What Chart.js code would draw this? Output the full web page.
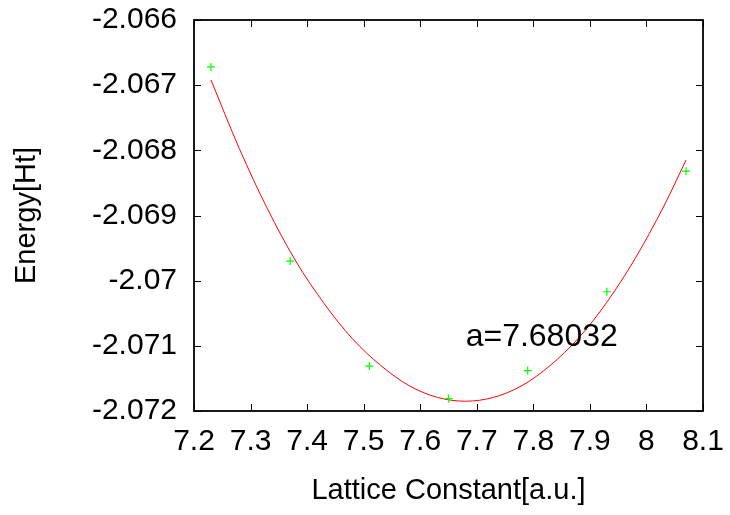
<!DOCTYPE html>
<html>
<head>
<meta charset="utf-8">
<script src="https://cdn.jsdelivr.net/npm/chart.js@4.4.1/dist/chart.umd.min.js"></script>
<style>
  html, body { margin: 0; padding: 0; background: #fff; }
  #wrap { width: 730px; height: 515px; }
</style>
</head>
<body>
<div id="wrap"><canvas id="eosChart" width="730" height="515"></canvas></div>
<script>
// ── Data ────────────────────────────────────────────────────

const latticeA = [7.23, 7.37, 7.51, 7.65, 7.79, 7.93, 8.07];
const energyHt = [-2.06672, -2.06970, -2.07131, -2.07181, -2.07138, -2.07017, -2.06832];

// fitted curve, sampled by eye along the red line
const fitA = [7.23, 7.28, 7.33, 7.38, 7.43, 7.48, 7.53, 7.58, 7.63, 7.68,
              7.73, 7.78, 7.83, 7.88, 7.93, 7.98, 8.03, 8.07];
const fitE = [-2.06692, -2.06797, -2.06890, -2.06970, -2.07035, -2.07089, -2.07130, -2.07161, -2.07179, -2.07185,
              -2.07179, -2.07161, -2.07130, -2.07088, -2.07033, -2.06966, -2.06887, -2.06815];

const xTicks = [7.2, 7.3, 7.4, 7.5, 7.6, 7.7, 7.8, 7.9, 8.0, 8.1];
const yTicks = [-2.072, -2.071, -2.070, -2.069, -2.068, -2.067, -2.066];

const fitLabel  = 'a=7.68032';
const fitLabelA = 7.68032;
const fitLabelE = -2.07086;

// ── Styling ─────────────────────────────────────────────────

const FONT = '"Liberation Sans", Arial, Helvetica, sans-serif';
const TICK_LEN = 7;

// gnuplot-style frame with inward, mirrored ticks
const framePlugin = {
  id: 'frame',
  afterDatasetsDraw(chart) {
    const { ctx, chartArea: a, scales } = chart;
    ctx.save();
    ctx.strokeStyle = '#000';
    ctx.lineWidth = 1;
    ctx.beginPath();
    xTicks.forEach(v => {
      const px = Math.round(scales.x.getPixelForValue(v)) + 0.5;
      ctx.moveTo(px, a.bottom); ctx.lineTo(px, a.bottom - TICK_LEN);
      ctx.moveTo(px, a.top);    ctx.lineTo(px, a.top + TICK_LEN);
    });
    yTicks.forEach(v => {
      const py = Math.round(scales.y.getPixelForValue(v)) + 0.5;
      ctx.moveTo(a.left, py);  ctx.lineTo(a.left + TICK_LEN, py);
      ctx.moveTo(a.right, py); ctx.lineTo(a.right - TICK_LEN, py);
    });
    ctx.stroke();

    ctx.lineWidth = 1.8;
    ctx.strokeRect(a.left, a.top, a.right - a.left, a.bottom - a.top);

    // fit result label
    ctx.fillStyle = '#000';
    ctx.font = '32px ' + FONT;
    ctx.textAlign = 'left';
    ctx.textBaseline = 'middle';
    ctx.fillText(fitLabel, scales.x.getPixelForValue(fitLabelA), scales.y.getPixelForValue(fitLabelE));
    ctx.restore();
  }
};

const trimNum = (v, d) => String(parseFloat(Number(v).toFixed(d)));

new Chart(document.getElementById('eosChart'), {
  type: 'scatter',
  data: {
    datasets: [{
      label: 'fit',
      data: fitA.map((a, i) => ({ x: a, y: fitE[i] })),
      showLine: true,
      borderColor: '#ff0000',
      borderWidth: 1,
      pointRadius: 0,
      cubicInterpolationMode: 'monotone',
      order: 2
    }, {
      label: 'energy',
      data: latticeA.map((a, i) => ({ x: a, y: energyHt[i] })),
      pointStyle: 'cross',
      pointRadius: 4,
      borderColor: '#00ff00',
      backgroundColor: '#00ff00',
      borderWidth: 1.2,
      order: 1
    }]
  },
  options: {
    responsive: false,
    animation: false,
    layout: { padding: { top: 20, right: 27, left: 0, bottom: 0 } },
    plugins: {
      legend:  { display: false },
      tooltip: { enabled: false }
    },
    scales: {
      x: {
        type: 'linear',
        min: 7.2,
        max: 8.1,
        afterBuildTicks: s => { s.ticks = xTicks.map(v => ({ value: v })); },
        afterFit: s => { s.height = 104; s.paddingLeft = 0; s.paddingRight = 0; },
        grid:   { display: false, drawTicks: false },
        border: { display: false },
        ticks: {
          color: '#000',
          padding: 13,
          maxRotation: 0,
          font: { family: FONT, size: 30 },
          callback: v => trimNum(v, 1)
        },
        title: {
          display: true,
          text: 'Lattice Constant[a.u.]',
          color: '#000',
          padding: { top: 6, bottom: 7 },
          font: { family: FONT, size: 29 }
        }
      },
      y: {
        type: 'linear',
        min: -2.072,
        max: -2.066,
        afterBuildTicks: s => { s.ticks = yTicks.map(v => ({ value: v })); },
        afterFit: s => { s.width = 194; s.paddingTop = 0; s.paddingBottom = 0; },
        grid:   { display: false, drawTicks: false },
        border: { display: false },
        ticks: {
          color: '#000',
          padding: 17,
          font: { family: FONT, size: 30 },
          callback: v => trimNum(v, 3)
        },
        title: {
          display: true,
          text: 'Energy[Ht]',
          color: '#000',
          padding: { top: 10, bottom: 0 },
          font: { family: FONT, size: 29 }
        }
      }
    }
  },
  plugins: [framePlugin]
});
</script>
</body>
</html>
